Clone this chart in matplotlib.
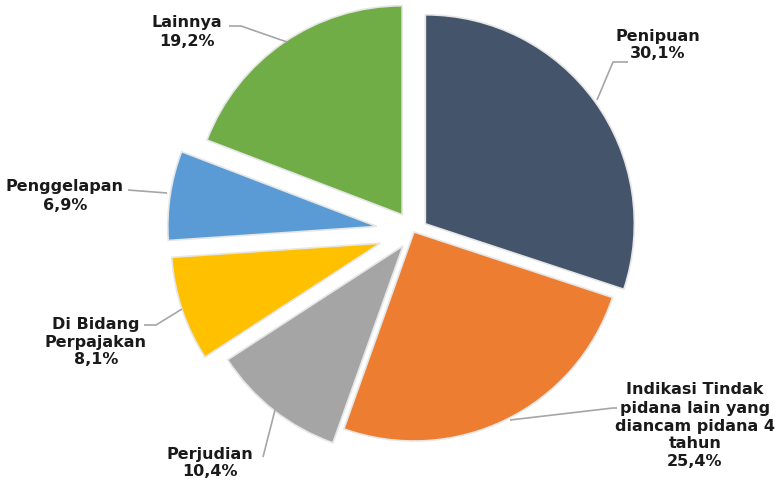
import matplotlib.pyplot as plt

# Komposisi kasus (persen)
kategori = ['Penipuan', 'Indikasi Tindak\npidana lain yang\ndiancam pidana 4\ntahun',
            'Perjudian', 'Di Bidang\nPerpajakan', 'Penggelapan', 'Lainnya']
nilai = [30.1, 25.4, 10.4, 8.1, 6.9, 19.2]
warna = ['#44546A', '#ED7D31', '#A5A5A5', '#FFC000', '#5B9BD5', '#70AD47']
explode = [0.067, 0.0, 0.085, 0.17, 0.18, 0.10]

# posisi label dan garis penunjuk (piksel, y dari atas)
label_xy = [(658, 45), (695, 426), (210, 463), (96, 342), (65, 196), (187, 32)]
garis = [
    [(597, 100), (613, 62), (628, 62)],
    [(510, 420), (613, 408), (617, 408)],
    [(275, 410), (263, 457)],
    [(182, 309), (156, 325), (144, 325)],
    [(167, 193), (128, 190)],
    [(287, 42), (241, 26), (229, 26)],
]

W, H = 779, 486
fig = plt.figure(figsize=(W / 100, H / 100), dpi=100)
ax = fig.add_axes([0, 0, 1, 1])

cx, cy, r = 414, 232, 209
# explode pada ax.pie tidak diskalakan dengan radius
ax.pie(nilai, colors=warna, explode=[e * r for e in explode], startangle=90,
       counterclock=False, center=(cx, H - cy), radius=r, normalize=True,
       wedgeprops=dict(edgecolor='#e6e6e6', linewidth=1.2))

for nama, v, (tx, ty), pts in zip(kategori, nilai, label_xy, garis):
    teks = nama + '\n' + f'{v:.1f}'.replace('.', ',') + '%'
    ax.text(tx, H - ty, teks, ha='center', va='center', fontsize=11.5,
            fontweight='bold', color='#1a1a1a', linespacing=1.25,
            family='DejaVu Sans')
    xs = [p[0] for p in pts]
    ys = [H - p[1] for p in pts]
    ax.plot(xs, ys, color='#a6a6a6', lw=1.2, solid_capstyle='butt')

ax.set_xlim(0, W)
ax.set_ylim(0, H)
ax.set_aspect('equal')
ax.axis('off')
fig.savefig('out.png', dpi=100, facecolor='white')
